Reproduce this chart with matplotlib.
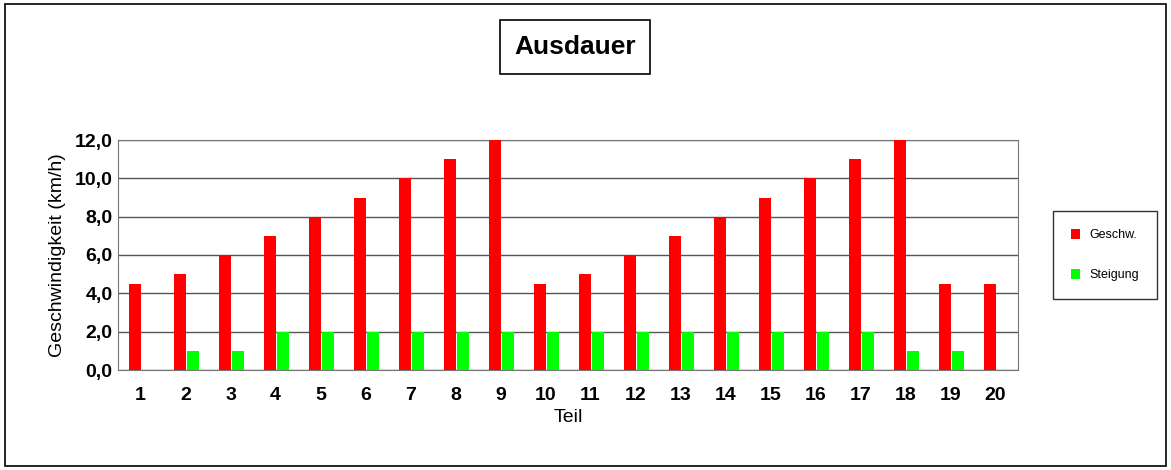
import matplotlib
matplotlib.use("Agg")
import matplotlib.pyplot as plt
from matplotlib.patches import Rectangle
import numpy as np

teil = [str(i) for i in range(1, 21)]
geschw = [4.5,5,6,7,8,9,10,11,12,4.5,5,6,7,8,9,10,11,12,4.5,4.5]
steigung = [0,1,1,2,2,2,2,2,2,2,2,2,2,2,2,2,2,1,1,0]

plt.rcParams['font.family'] = ['Liberation Sans', 'DejaVu Sans']
fig = plt.figure(figsize=(11.71, 4.70), dpi=100)
fig.patches.append(Rectangle((0.004, 0.008), 0.992, 0.984, transform=fig.transFigure,
                             fill=False, edgecolor='black', lw=1.2))
ax = fig.add_axes([118/1171, 1-370/470, 900/1171, 230/470])
x = np.arange(len(teil))
w = 0.27
ax.bar(x - 0.12, geschw, w, color='#ff0000', zorder=3, label='Geschw.')
ax.bar(x + 0.17, steigung, w, color='#00ff00', zorder=3, label='Steigung')
ax.set_xlim(-0.5, 19.5)
ax.set_ylim(0, 12)
ax.set_yticks(np.arange(0, 13, 2))
ax.set_yticklabels([f"{v:.1f}".replace('.', ',') for v in np.arange(0, 13, 2)],
                   fontsize=14, fontweight='bold')
ax.set_xticks(x)
ax.set_xticklabels(teil, fontsize=14, fontweight='bold')
ax.tick_params(length=0, pad=12)
ax.tick_params(axis='y', pad=4)
ax.grid(axis='y', color='#555555', lw=1, zorder=0)
for s in ax.spines.values():
    s.set_color('#777777')
ax.set_xlabel('Teil', fontsize=14, labelpad=4)
ax.set_ylabel('Geschwindigkeit (km/h)', fontsize=14, labelpad=6)
fig.text(575/1171, 1-47/470, 'Ausdauer', fontsize=19, fontweight='bold', ha='center', va='center',
         bbox=dict(boxstyle='square,pad=0.55', fc='white', ec='black', lw=1.2))
leg = fig.legend(loc='center', bbox_to_anchor=(1105/1171, 1-255/470), fontsize=9,
                 frameon=True, edgecolor='black', fancybox=False, handlelength=0.7,
                 handleheight=0.9, labelspacing=2.2, borderpad=1.4)
fig.savefig('out.png', dpi=100)
